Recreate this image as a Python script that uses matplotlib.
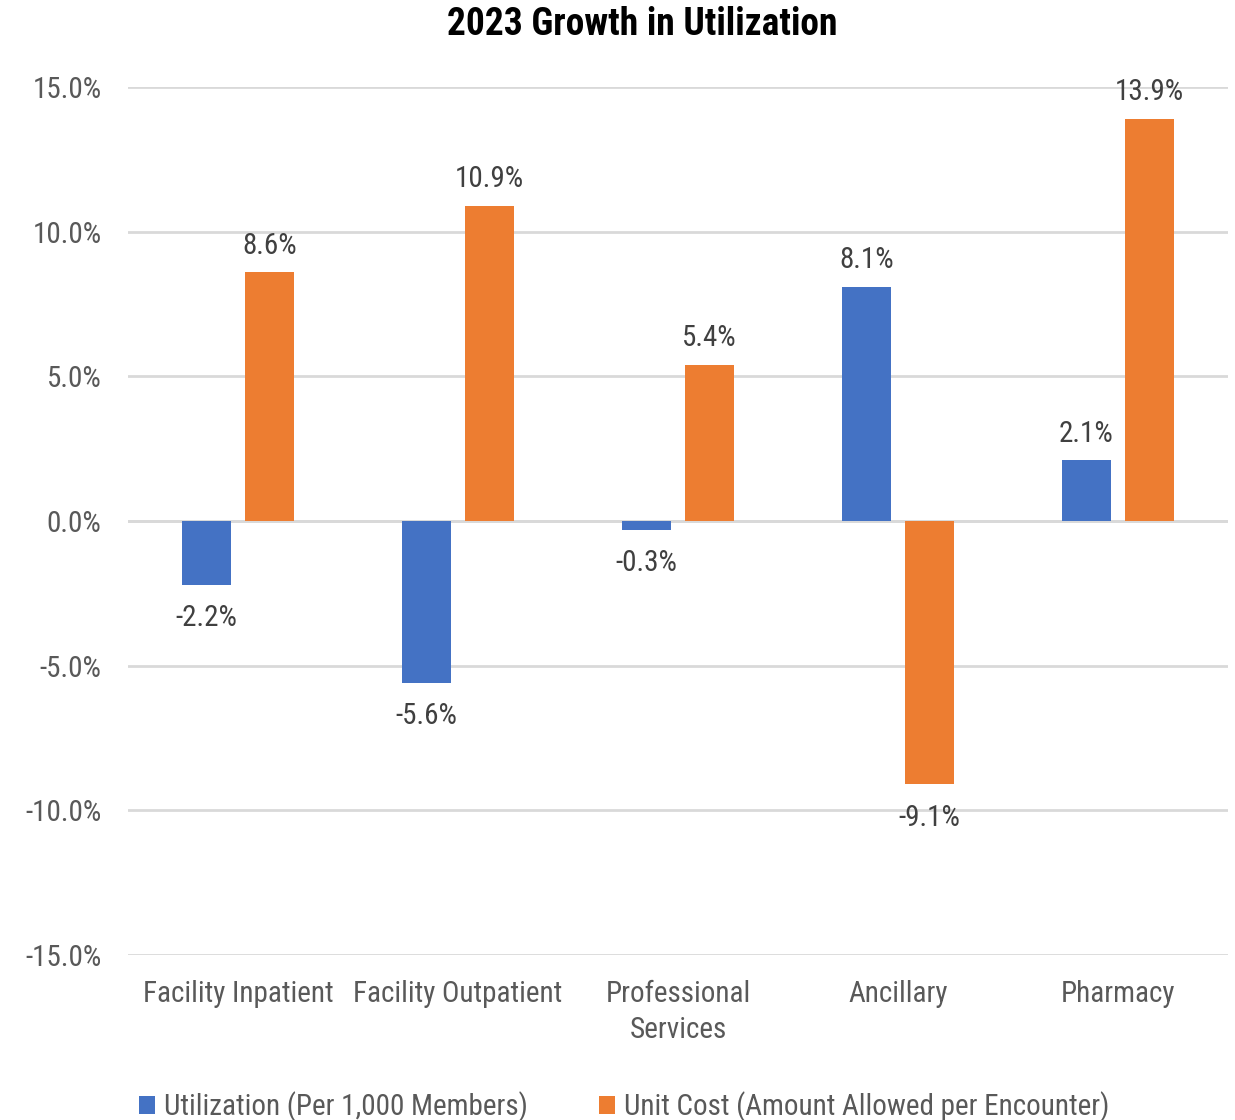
import numpy as np
import matplotlib.pyplot as plt
from matplotlib.ticker import FuncFormatter

categories = ['Facility Inpatient', 'Facility Outpatient', 'Professional\nServices',
              'Ancillary', 'Pharmacy']
utilization = [-2.2, -5.6, -0.3, 8.1, 2.1]
unit_cost = [8.6, 10.9, 5.4, -9.1, 13.9]
series_names = ['Utilization (Per 1,000 Members)',
                'Unit Cost (Amount Allowed per Encounter)']
yticks = [-15, -10, -5, 0, 5, 10, 15]

BLUE = '#4472c4'
ORANGE = '#ed7d31'
TEXT = '#595959'
GRID = '#d9d9d9'
FS = 21

plt.rcParams['font.family'] = ['Roboto Condensed', 'DejaVu Sans']

fig = plt.figure(figsize=(12.35, 11.2), dpi=100)
ax = fig.add_axes([0.1036, 0.1473, 0.8907, 0.775])

x = np.arange(len(categories))
width = 0.223
offset = 0.143

b1 = ax.bar(x - offset, utilization, width, color=BLUE, label=series_names[0], zorder=3)
b2 = ax.bar(x + offset, unit_cost, width, color=ORANGE, label=series_names[1], zorder=3)

# value labels above positive bars, below negative ones
for bars, vals in ((b1, utilization), (b2, unit_cost)):
    for bar, v in zip(bars, vals):
        cx = bar.get_x() + bar.get_width() / 2
        up = v >= 0
        ax.annotate(f'{v:.1f}%', (cx, v), xytext=(0, 9 if up else -14),
                    textcoords='offset points', ha='center',
                    va='bottom' if up else 'top', fontsize=FS, color='#404040')

ax.set_xlim(-0.5, len(categories) - 0.5)
ax.set_ylim(-15, 15)
ax.set_yticks(yticks)
ax.yaxis.set_major_formatter(FuncFormatter(lambda v, _: f'{v:.1f}%'))
ax.grid(axis='y', color=GRID, linewidth=2, zorder=0)
ax.set_xticks(x)
ax.set_xticklabels(categories, linespacing=1.35)
ax.tick_params(axis='both', length=0, labelsize=FS, labelcolor=TEXT)
ax.tick_params(axis='y', pad=19)
ax.tick_params(axis='x', pad=18)
for s in ax.spines.values():
    s.set_visible(False)
ax.axhline(0, color=GRID, linewidth=2, zorder=1)

fig.text(0.52, 1 - 6 / 1120, '2023 Growth in Utilization', ha='center', va='top',
         fontsize=27, fontweight='bold', color='black')

ax.legend(loc='upper left', bbox_to_anchor=(0.01, -0.157), ncol=2, frameon=False,
          fontsize=FS, labelcolor=TEXT, handlelength=0.55, handleheight=0.55,
          handletextpad=0.3, columnspacing=2.45, borderaxespad=0, borderpad=0)

fig.savefig('out.png', dpi=100)
